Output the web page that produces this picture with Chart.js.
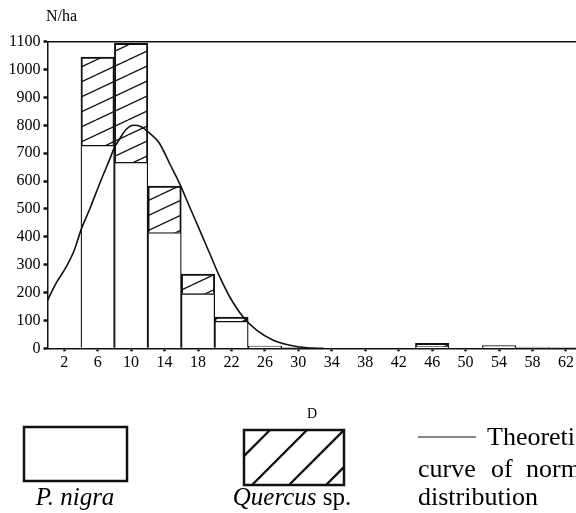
<!DOCTYPE html>
<html>
<head>
<meta charset="utf-8">
<script src="https://cdn.jsdelivr.net/npm/chart.js@4.4.1/dist/chart.umd.min.js"></script>
<style>
  html, body { margin: 0; padding: 0; background: #fff; }
  #caixa { width: 576px; height: 513px; }
</style>
</head>
<body>
<div id="caixa"><canvas id="graficoDiametros"></canvas></div>
<script>
// classes de diametro (centro de cada classe de 4 cm)
const classes = [2, 6, 10, 14, 18, 22, 26, 30, 34, 38, 42, 46, 50, 54, 58, 62];
// arvores por hectare
const pinus   = [null, 728, 667, 415, 196, 97, 8, 3, null, null, null, 6, null, 10, 4, 3];
const quercus = [null, 317, 427, 167, 70, 15, null, null, null, null, null, 12, null, null, null, null];
// curva teorica da distribuicao normal, pontos lidos
const curvaX = [0, 1, 2.2, 3.2, 4, 5, 6.4, 7.4, 8, 8.6, 9.4, 10.3, 11.2, 12.2, 13.4, 14.6, 15.8, 17, 18.2, 19.4, 20.6, 21.8, 23.4, 25, 27, 29, 31, 33];
const curvaY = [172, 232, 290, 352, 424, 496, 603, 675, 720, 750, 785, 800, 795, 772, 735, 663, 591, 507, 424, 340, 256, 184, 112, 65, 29, 11, 2, 0];

const serif = '"Liberation Serif", "DejaVu Serif", serif';

// hachura inclinada das barras de Quercus
function hachura() {
  const c = document.createElement('canvas');
  c.width = 32; c.height = 15;
  const g = c.getContext('2d');
  g.strokeStyle = '#111';
  g.lineWidth = 1.3;
  g.beginPath();
  for (const dy of [-15, 0, 15]) {
    g.moveTo(0, 15 + dy);
    g.lineTo(32, dy);
  }
  g.stroke();
  return g.createPattern(c, 'repeat');
}

// linha superior, titulo do eixo e legenda por baixo do grafico
const legenda = {
  id: 'legenda',
  afterDraw(chart) {
    const ctx = chart.ctx;
    const a = chart.chartArea;
    ctx.save();
    ctx.strokeStyle = '#111';
    ctx.lineWidth = 1.5;
    ctx.beginPath();
    ctx.moveTo(a.left, a.top);
    ctx.lineTo(chart.width, a.top);
    ctx.stroke();

    ctx.fillStyle = '#000';
    ctx.font = '16px ' + serif;
    ctx.textBaseline = 'middle';
    ctx.textAlign = 'left';
    ctx.fillText('N/ha', 46, 17);

    ctx.textBaseline = 'alphabetic';

    // P. nigra
    ctx.lineWidth = 2.5;
    ctx.strokeRect(24, 427, 103, 54);
    ctx.textAlign = 'center';
    ctx.font = 'italic 25px ' + serif;
    ctx.fillText('P. nigra', 75, 505);

    // Quercus sp.
    ctx.strokeRect(244, 430, 100, 55);
    ctx.save();
    ctx.beginPath();
    ctx.rect(244, 430, 100, 55);
    ctx.clip();
    ctx.lineWidth = 2.3;
    ctx.beginPath();
    for (let x = 244 - 66; x < 360; x += 37) {
      ctx.moveTo(x, 485);
      ctx.lineTo(x + 55, 430);
    }
    ctx.stroke();
    ctx.restore();
    ctx.font = '14px ' + serif;
    ctx.fillText('D', 312, 418);
    ctx.font = 'italic 25px ' + serif;
    const w1 = ctx.measureText('Quercus').width;
    ctx.font = '25px ' + serif;
    const w2 = ctx.measureText(' sp.').width;
    const x0 = 292 - (w1 + w2) / 2;
    ctx.textAlign = 'left';
    ctx.font = 'italic 25px ' + serif;
    ctx.fillText('Quercus', x0, 505);
    ctx.font = '25px ' + serif;
    ctx.fillText(' sp.', x0 + w1, 505);

    // curva teorica
    ctx.font = '26px ' + serif;
    ctx.lineWidth = 1.2;
    ctx.beginPath();
    ctx.moveTo(418, 437);
    ctx.lineTo(476, 437);
    ctx.stroke();
    ctx.fillText('Theoretical', 487, 445);
    ctx.fillText('curve', 418, 477);
    ctx.fillText('of', 491, 477);
    ctx.fillText('normal', 526, 477);
    ctx.fillText('distribution', 418, 505);
    ctx.restore();
  }
};

const ctx = document.getElementById('graficoDiametros').getContext('2d');
new Chart(ctx, {
  type: 'bar',
  data: {
    datasets: [{
      type: 'line',
      label: 'Theoretical curve of normal distribution',
      data: curvaX.map((x, i) => ({ x: x, y: curvaY[i] })),
      borderColor: '#111',
      borderWidth: 1.6,
      pointRadius: 0,
      cubicInterpolationMode: 'monotone',
      order: 0
    }, {
      label: 'P. nigra',
      data: classes.map((c, i) => ({ x: c, y: pinus[i] })),
      backgroundColor: '#fff',
      borderColor: '#111',
      borderWidth: 1.3,
      barPercentage: 1,
      categoryPercentage: 1,
      order: 1
    }, {
      label: 'Quercus sp.',
      data: classes.map((c, i) => ({ x: c, y: quercus[i] })),
      backgroundColor: hachura(),
      borderColor: '#111',
      borderWidth: 1.3,
      barPercentage: 1,
      categoryPercentage: 1,
      order: 1
    }]
  },
  options: {
    responsive: true,
    maintainAspectRatio: false,
    animation: false,
    layout: { padding: { top: 41.7, right: 0, bottom: 0, left: 0 } },
    plugins: {
      legend: { display: false },
      tooltip: { enabled: false }
    },
    scales: {
      x: {
        type: 'linear',
        stacked: true,
        offset: false,
        min: 0,
        max: 63.2,
        afterBuildTicks: (scale) => { scale.ticks = classes.map(v => ({ value: v })); },
        afterFit: (scale) => { scale.height = 513 - 348.3; },
        grid: { display: true, offset: false, drawOnChartArea: false, tickLength: 3, tickWidth: 2.5, tickColor: '#111' },
        border: { display: true, color: '#111', width: 1.5 },
        ticks: { color: '#000', font: { family: serif, size: 16 }, padding: 2, maxRotation: 0, autoSkip: false }
      },
      y: {
        stacked: true,
        min: 0,
        max: 1100,
        afterFit: (scale) => { scale.width = 47.5; },
        grid: { display: true, drawOnChartArea: false, tickLength: 4, tickWidth: 2.5, tickColor: '#111' },
        border: { display: true, color: '#111', width: 1.5 },
        ticks: {
          stepSize: 100,
          color: '#000',
          font: { family: serif, size: 16 },
          padding: 3,
          callback: (v) => String(v)
        }
      }
    }
  },
  plugins: [legenda]
});
</script>
</body>
</html>
